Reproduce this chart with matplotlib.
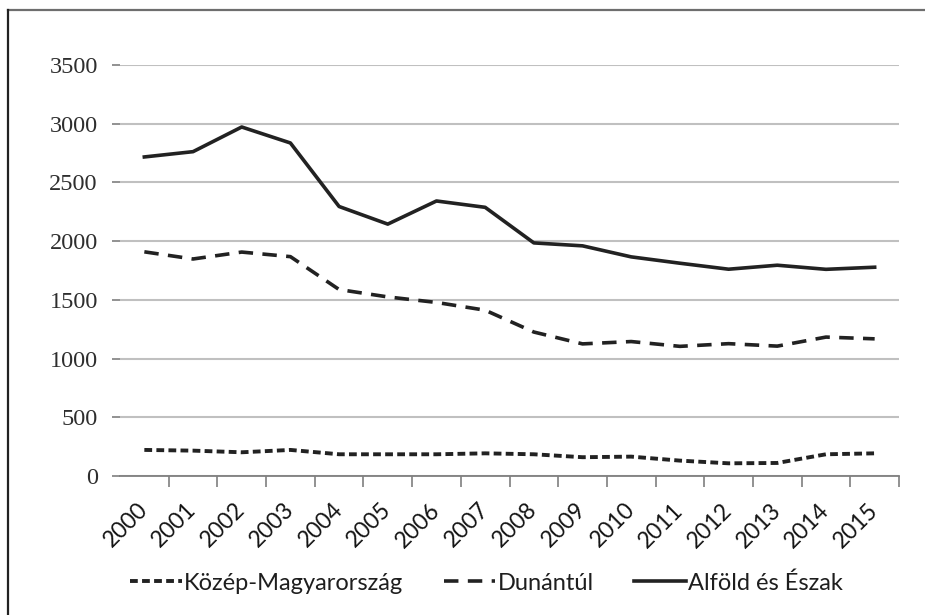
import matplotlib
matplotlib.use('Agg')
from matplotlib import pyplot as plt
from matplotlib.lines import Line2D

# data
years = [str(y) for y in range(2000, 2016)]
kozep = [222, 216, 202, 222, 185, 185, 185, 193, 185, 160, 165, 131, 108, 111, 185, 193]
dunantul = [1909, 1848, 1907, 1868, 1588, 1525, 1478, 1412, 1226, 1125, 1145, 1104, 1127, 1106, 1183, 1168]
alfold = [2717, 2762, 2972, 2836, 2295, 2145, 2342, 2288, 1985, 1960, 1866, 1812, 1761, 1795, 1760, 1778]
series_names = ['Közép-Magyarország', 'Dunántúl', 'Alföld és Észak']
y_ticks = [0, 500, 1000, 1500, 2000, 2500, 3000, 3500]

line_col = '#222222'

fig = plt.figure(figsize=(9.25, 6.15), dpi=100)
ax = fig.add_axes([120/925, 1 - 476/615, 779/925, 411/615])

x = range(len(years))
ax.plot(x, kozep, color=line_col, lw=2.8, linestyle=(0, (2.0, 1.1)), label=series_names[0])
ax.plot(x, dunantul, color=line_col, lw=2.6, linestyle=(0, (4.0, 2.6)), label=series_names[1])
ax.plot(x, alfold, color=line_col, lw=2.6, label=series_names[2])

ax.set_xlim(-0.5, len(years) - 0.5)
ax.set_ylim(0, 3500)
ax.set_yticks(y_ticks)
ax.set_yticklabels([str(v) for v in y_ticks], family='Liberation Serif', fontsize=17.5, color='#2e2e2e')
ax.yaxis.grid(True, color='#c0c0c0', lw=1.5)
ax.set_axisbelow(True)

# year labels at category centres, tick marks between categories
ax.set_xticks(list(x))
ax.set_xticklabels(years, rotation=45, ha='right', va='center', rotation_mode='anchor',
                   family='Lato', fontsize=16.5, color='#141414')
ax.set_xticks([i + 0.5 for i in x], minor=True)
ax.tick_params(axis='x', which='major', length=0, pad=22)
ax.tick_params(axis='x', which='minor', length=8, width=1.2, color='#7f7f7f', direction='out')
ax.tick_params(axis='y', length=6, width=1.2, color='#7f7f7f', pad=10)

for side in ['top', 'right', 'left']:
    ax.spines[side].set_visible(False)
ax.spines['bottom'].set_color('#7f7f7f')
ax.spines['bottom'].set_linewidth(1.3)

leg = fig.legend(loc='center left', bbox_to_anchor=(118/925, 1 - 583/615), ncol=3,
                 frameon=False, borderpad=0, handlelength=2.2, handletextpad=0.1,
                 columnspacing=1.7, prop={'family': 'Lato', 'size': 17})
for t in leg.get_texts():
    t.set_color('#1e1e1e')

# outer frame of the original figure (only top and left edges visible)
fig.add_artist(Line2D([8/925, 1], [1 - 10/615, 1 - 10/615], transform=fig.transFigure,
                      color='#6e6e6e', lw=1.6))
fig.add_artist(Line2D([8/925, 8/925], [0, 1 - 10/615], transform=fig.transFigure,
                      color='#222222', lw=1.6))

fig.savefig('out.png', dpi=100)
